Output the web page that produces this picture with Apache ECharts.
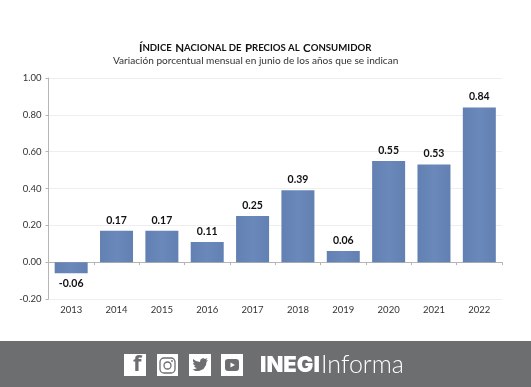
<!DOCTYPE html>
<html>

<head>
    <meta charset="utf-8">
    <style>
        html, body { margin: 0; padding: 0; background: #fff; }
    </style>
    <script src="https://cdn.jsdelivr.net/npm/echarts@6/dist/echarts.min.js"></script>
</head>

<body>
    <div id="main" style="width: 531px;height:387px;"></div>
    <script type="text/javascript">
        var years = ['2013', '2014', '2015', '2016', '2017', '2018', '2019', '2020', '2021', '2022'];
        var values = [-0.06, 0.17, 0.17, 0.11, 0.25, 0.39, 0.06, 0.55, 0.53, 0.84];

        var chart = echarts.init(document.getElementById('main'));
        var font = 'Lato';
        var band = '#6d6e70';

        chart.setOption({
            animation: false,
            backgroundColor: '#fff',
            grid: { left: 48.5, right: 29, top: 78, height: 221, containLabel: false },
            xAxis: {
                type: 'category',
                data: years,
                axisLine: { onZero: true, lineStyle: { color: '#b5b5b5' } },
                axisTick: { show: true, alignWithLabel: false, length: 3, lineStyle: { color: '#b5b5b5' } },
                axisLabel: { margin: 6, color: '#333', fontFamily: font, fontSize: 9.5 }
            },
            yAxis: {
                type: 'value',
                min: -0.2,
                max: 1,
                interval: 0.2,
                axisLine: { show: true, lineStyle: { color: '#b5b5b5' } },
                axisTick: { show: true, length: 3, lineStyle: { color: '#b5b5b5' } },
                axisLabel: {
                    margin: 7, color: '#333', fontFamily: font, fontSize: 9.5,
                    formatter: function (v) { return v.toFixed(2); }
                },
                splitLine: { lineStyle: { color: '#eeeeee' } }
            },
            series: [{
                type: 'bar',
                data: values,
                barWidth: 33,
                itemStyle: {
                    color: new echarts.graphic.LinearGradient(0, 0, 1, 0, [
                        { offset: 0, color: '#6280b2' },
                        { offset: 0.5, color: '#6a88b9' },
                        { offset: 1, color: '#6280b2' }
                    ])
                },
                label: {
                    show: true,
                    position: 'outside',
                    distance: 5,
                    color: '#111',
                    fontFamily: font,
                    fontWeight: 'bold',
                    fontSize: 10.5,
                    formatter: function (p) { return p.value.toFixed(2); }
                }
            }],
            graphic: [
                {
                    type: 'text', left: 139, top: 42,
                    style: {
                        rich: {
                            b: { font: 'bold 11.5px Lato', fill: '#111' },
                            s: { font: 'bold 9.6px Lato', fill: '#111' }
                        },
                        text: '{b|Í}{s|NDICE} {b|N}{s|ACIONAL DE} {b|P}{s|RECIOS AL} {b|C}{s|ONSUMIDOR}'
                    }
                },
                {
                    type: 'text', left: 113, top: 56,
                    style: { text: 'Variación porcentual mensual en junio de los años que se indican', font: '10.1px Lato', fill: '#333' }
                },
                // franja inferior
                { type: 'rect', shape: { x: 0, y: 341, width: 531, height: 46 }, style: { fill: band } },
                // facebook
                { type: 'rect', shape: { x: 124, y: 354, width: 22, height: 22 }, style: { fill: '#fff' } },
                { type: 'text', x: 133, y: 354, style: { text: 'f', font: 'bold 22px "Open Sans"', fill: band } },
                // instagram
                { type: 'rect', shape: { x: 157, y: 354, width: 21, height: 22 }, style: { fill: '#fff' } },
                { type: 'rect', shape: { x: 160, y: 358, width: 15, height: 15, r: 4 }, style: { fill: 'none', stroke: band, lineWidth: 1.3 } },
                { type: 'circle', shape: { cx: 167.5, cy: 365.5, r: 3.5 }, style: { fill: 'none', stroke: band, lineWidth: 1.3 } },
                { type: 'circle', shape: { cx: 172, cy: 361, r: 0.9 }, style: { fill: band } },
                // twitter
                { type: 'rect', shape: { x: 189, y: 354, width: 22, height: 22 }, style: { fill: '#fff' } },
                { type: 'polygon', shape: { points: [[193, 359], [196, 361], [200, 362], [200.5, 359.5], [203, 358], [205, 359], [207.5, 358], [206, 360.5], [208, 360], [206.5, 362], [206, 365], [203.5, 369], [199, 371], [195.5, 371], [192.5, 369.5], [195, 369], [197, 368], [195, 367.5], [194, 366], [195.5, 366], [193.5, 364.5], [193, 363], [194.5, 363.3], [193, 361.5]] }, style: { fill: band } },
                // youtube
                { type: 'rect', shape: { x: 221, y: 354, width: 22, height: 22 }, style: { fill: '#fff' } },
                { type: 'rect', shape: { x: 225, y: 359, width: 14, height: 12, r: 3 }, style: { fill: band } },
                { type: 'polygon', shape: { points: [[230.5, 362.5], [230.5, 367.5], [235, 365]] }, style: { fill: '#fff' } },
                // logo
                { type: 'text', x: 260, y: 354, style: { text: 'INEGI', font: '900 22px Inter', fill: '#fff' } },
                { type: 'text', x: 321, y: 352, style: { text: 'Informa', font: '300 25px Lato', fill: '#fff' } }
            ]
        });
    </script>
</body>

</html>
